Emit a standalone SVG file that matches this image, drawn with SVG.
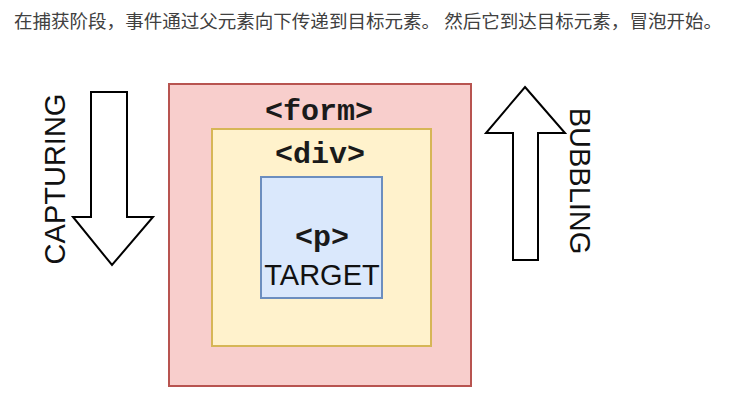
<svg xmlns="http://www.w3.org/2000/svg" width="736" height="402" viewBox="0 0 736 402">
<style>
.cap{font-family:"Noto Sans CJK SC","Noto Sans CJK JP",sans-serif;font-size:18px;fill:#404040}
.tag{font-family:"Liberation Mono","Courier New",monospace;font-weight:bold;font-size:30px;fill:#1a1a1a;text-anchor:middle}
.lbl{font-family:"Liberation Sans",Arial,sans-serif;font-size:29px;fill:#111;text-anchor:middle}
.arrow{fill:#fff;stroke:#000;stroke-width:2;stroke-linejoin:miter}
</style>
<rect width="736" height="402" fill="#fff"/>
<text class="cap" x="14" y="28" textLength="708" lengthAdjust="spacingAndGlyphs">在捕获阶段，事件通过父元素向下传递到目标元素。 然后它到达目标元素，冒泡开始。</text>
<g id="form">
<rect x="169" y="84" width="302" height="302" fill="#f8cecc" stroke="#b85450" stroke-width="2"/>
<text class="tag" x="319" y="120">&lt;form&gt;</text>
</g>
<g id="div">
<rect x="212" y="129" width="219" height="217" fill="#fff2cc" stroke="#d6b656" stroke-width="2"/>
<text class="tag" x="320" y="163">&lt;div&gt;</text>
</g>
<g id="p">
<rect x="261" y="177" width="121" height="121" fill="#dae8fc" stroke="#6c8ebf" stroke-width="2"/>
<text class="tag" x="322" y="246">&lt;p&gt;</text>
<text class="lbl" x="322" y="285">TARGET</text>
</g>
<g id="connectors">
<g id="capturing">
<path class="arrow" d="M91,92 H127 V217 H153 L112,265 L73,217 H91 Z"/>
<text class="lbl" transform="translate(65,179) rotate(-90)" x="0" y="0">CAPTURING</text>
</g>
<g id="bubbling">
<path class="arrow" d="M525,87 L565,133 H538 V260 H513 V133 H486 Z"/>
<text class="lbl" transform="translate(570,181) rotate(90)" x="0" y="0">BUBBLING</text>
</g>
</g>
</svg>
